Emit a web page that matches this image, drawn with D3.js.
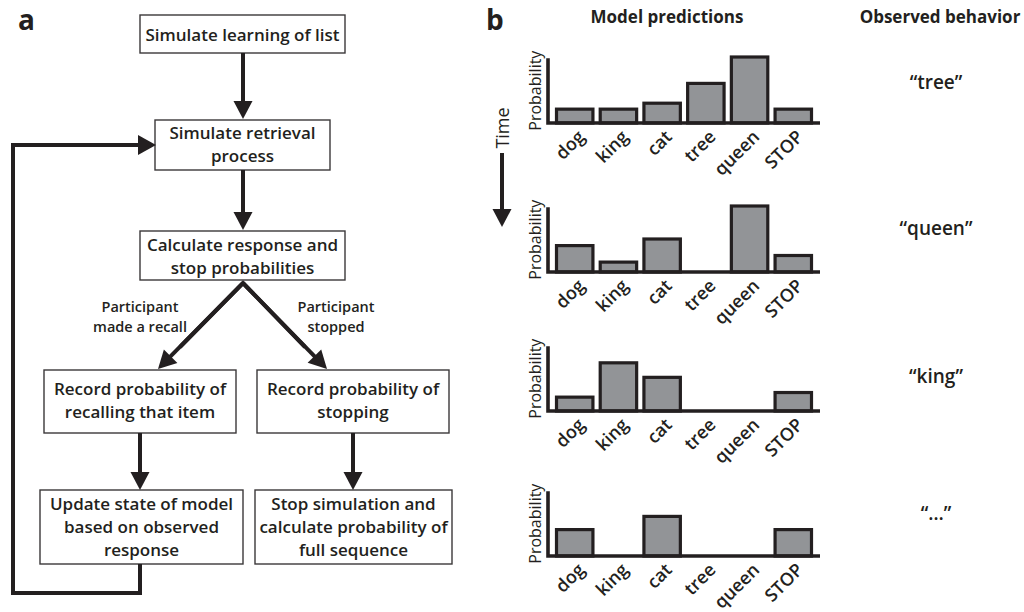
<!DOCTYPE html>
<html>
<head>
<meta charset="utf-8">
<script src="https://cdn.jsdelivr.net/npm/d3@7"></script>
<style>
  body { margin: 0; background: #fff; }
  text { font-family: "Open Sans", "Noto Sans", sans-serif; fill: #231f20; }
</style>
</head>
<body>
<svg id="fig" width="1024" height="612"></svg>
<script>
// ---- data ----
const categories = ["dog", "king", "cat", "tree", "queen", "STOP"];
const step1 = [0.21, 0.21, 0.30, 0.60, 1.00, 0.21];
const step2 = [0.40, 0.15, 0.50, 0.00, 1.00, 0.25];
const step3 = [0.21, 0.73, 0.51, 0.00, 0.00, 0.28];
const step4 = [0.40, 0.00, 0.60, 0.00, 0.00, 0.40];
const observed = ["\u201Ctree\u201D", "\u201Cqueen\u201D", "\u201Cking\u201D", "\u201C\u2026\u201D"];
const steps = [step1, step2, step3, step4];

const flowText = {
  learn:   ["Simulate learning of list"],
  retr:    ["Simulate retrieval", "process"],
  calc:    ["Calculate response and", "stop probabilities"],
  recRec:  ["Record probability of", "recalling that item"],
  recStop: ["Record probability of", "stopping"],
  update:  ["Update state of model", "based on observed", "response"],
  stop:    ["Stop simulation and", "calculate probability of", "full sequence"]
};
const branchText = {
  left:  ["Participant", "made a recall"],
  right: ["Participant", "stopped"]
};

// ---- drawing ----
const INK = "#231f20";
const svg = d3.select("#fig");

function arrowHead(g, x1, y1, x2, y2, len, half) {
  const a = Math.atan2(y2 - y1, x2 - x1);
  const bx = x2 - len * Math.cos(a), by = y2 - len * Math.sin(a);
  const nx = -Math.sin(a) * half, ny = Math.cos(a) * half;
  g.append("polygon")
    .attr("points", [[x2, y2], [bx + nx, by + ny], [bx - nx, by - ny]].map(p => p.join(",")).join(" "))
    .attr("fill", INK);
  return [bx + 2 * Math.cos(a), by + 2 * Math.sin(a)];
}

function arrow(g, pts, width = 4, len = 18, half = 9.5) {
  const n = pts.length;
  const [px, py] = pts[n - 2], [tx, ty] = pts[n - 1];
  const base = arrowHead(g, px, py, tx, ty, len, half);
  const line = pts.slice(0, n - 1).concat([base]);
  g.append("path")
    .attr("d", d3.line()(line))
    .attr("fill", "none").attr("stroke", INK)
    .attr("stroke-width", width).attr("stroke-linejoin", "miter");
}

// panel a: flow chart
const A = svg.append("g");
A.append("text").attr("x", 18).attr("y", 30)
  .attr("font-size", 28).attr("font-weight", 700).text("a");

const boxes = [
  { key: "learn",   x0: 140, y0: 15,  x1: 345, y1: 53,  base: 41 },
  { key: "retr",    x0: 155, y0: 120, x1: 330, y1: 170, base: 139 },
  { key: "calc",    x0: 140, y0: 231, x1: 345, y1: 280, base: 251 },
  { key: "recRec",  x0: 44,  y0: 370, x1: 236, y1: 433, base: 395 },
  { key: "recStop", x0: 257, y0: 370, x1: 449, y1: 433, base: 395 },
  { key: "update",  x0: 40,  y0: 490, x1: 243, y1: 564, base: 510 },
  { key: "stop",    x0: 255, y0: 490, x1: 452, y1: 564, base: 510 }
];

boxes.forEach(b => {
  A.append("rect")
    .attr("x", b.x0).attr("y", b.y0)
    .attr("width", b.x1 - b.x0).attr("height", b.y1 - b.y0)
    .attr("fill", "#fff").attr("stroke", "#3b3839").attr("stroke-width", 1.4);
  const t = A.append("text")
    .attr("text-anchor", "middle").attr("font-size", 17).attr("font-weight", 600);
  flowText[b.key].forEach((ln, i) => {
    t.append("tspan").attr("x", (b.x0 + b.x1) / 2).attr("y", b.base + i * 23).text(ln);
  });
});

arrow(A, [[243, 53], [243, 119]]);
arrow(A, [[243, 170], [243, 230]]);
// split into the two outcome branches
A.append("path")
  .attr("d", d3.line()([[180, 347], [243, 283], [305, 347]]))
  .attr("fill", "none").attr("stroke", INK).attr("stroke-width", 4)
  .attr("stroke-linejoin", "miter");
arrow(A, [[243, 283], [158, 369]]);
arrow(A, [[243, 283], [327, 369]]);
arrow(A, [[140, 433], [140, 490]]);
arrow(A, [[353, 433], [353, 490]]);
// loop back to retrieval
arrow(A, [[140, 564], [140, 593], [13, 593], [13, 145], [156, 145]], 4, 18, 10);

[["left", 140], ["right", 336]].forEach(([k, cx]) => {
  const t = A.append("text").attr("text-anchor", "middle")
    .attr("font-size", 14.5).attr("font-weight", 600);
  branchText[k].forEach((ln, i) => {
    t.append("tspan").attr("x", cx).attr("y", 312 + i * 20).text(ln);
  });
});

// panel b: stepwise predictions
const B = svg.append("g");
B.append("text").attr("x", 486).attr("y", 30)
  .attr("font-size", 28).attr("font-weight", 700).text("b");
B.append("text").attr("x", 667).attr("y", 23).attr("text-anchor", "middle")
  .attr("font-size", 17).attr("font-weight", 700).text("Model predictions");
B.append("text").attr("x", 940).attr("y", 23).attr("text-anchor", "middle")
  .attr("font-size", 17).attr("font-weight", 700).text("Observed behavior");

// time arrow
B.append("text").attr("transform", "translate(509,128) rotate(-90)")
  .attr("text-anchor", "middle").attr("font-size", 18).attr("font-weight", 400).text("Time");
arrow(B, [[502, 153], [502, 227]], 4, 18, 9.5);

const x = d3.scaleBand().domain(categories).range([555, 813]).paddingInner(0.098).paddingOuter(0);
const bw = x.bandwidth();
const baselines = [123, 272, 411, 556];
const wordBase = [89, 235, 383, 520];
const axisX = 548, axisRight = 820;

steps.forEach((vals, si) => {
  const base = baselines[si];
  const y = d3.scaleLinear().domain([0, 1]).range([base, base - 66]);
  const g = B.append("g");

  g.selectAll("rect").data(categories.map((c, i) => ({ c, v: vals[i] })).filter(d => d.v > 0))
    .join("rect")
    .attr("x", d => x(d.c) + 1.5).attr("width", bw - 3)
    .attr("y", d => y(d.v)).attr("height", d => base - y(d.v))
    .attr("fill", "#929497").attr("stroke", INK).attr("stroke-width", 3.2);

  g.append("path")
    .attr("d", `M${axisX},${y(0.98)}V${base}H${axisRight}`)
    .attr("fill", "none").attr("stroke", INK).attr("stroke-width", 3.6)
    .attr("stroke-linejoin", "miter");

  g.append("text")
    .attr("transform", `translate(541,${(y(0.98) + base) / 2}) rotate(-90)`)
    .attr("text-anchor", "middle").attr("font-size", 16).attr("font-weight", 400)
    .text("Probability");

  g.selectAll("text.tick").data(categories).join("text")
    .attr("class", "tick")
    .attr("text-anchor", "end").attr("font-size", 18).attr("font-weight", 600)
    .attr("transform", c => `translate(${x(c) + bw / 2 + 11},${base + 15}) rotate(-45)`)
    .text(c => c);

  B.append("text").attr("x", 936).attr("y", wordBase[si]).attr("text-anchor", "middle")
    .attr("font-size", 19).attr("font-weight", 600).text(observed[si]);
});
</script>
</body>
</html>
